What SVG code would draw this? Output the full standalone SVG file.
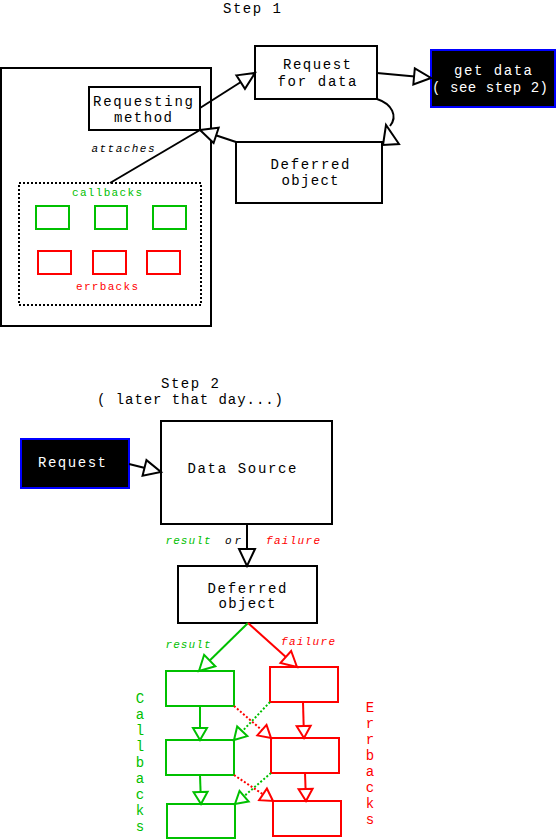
<svg xmlns="http://www.w3.org/2000/svg" width="556" height="840" viewBox="0 0 556 840">
<style>
text{font-family:"Liberation Mono","DejaVu Sans Mono",monospace;font-size:14px;fill:#000;text-anchor:middle}
.w{fill:#fff}
.sm{font-size:11px;font-style:italic}
.lab{font-size:11px}
.g{fill:#00c000}
.r{fill:#ff0000}
.box{fill:#fff;stroke:#000;stroke-width:2}
.blk{fill:#000;stroke:#0000ff;stroke-width:2}
.gb{fill:none;stroke:#00c000;stroke-width:2}
.rb{fill:none;stroke:#ff0000;stroke-width:2}
.ln{fill:none;stroke:#000;stroke-width:2}
.gl{fill:none;stroke:#00c000;stroke-width:2}
.rl{fill:none;stroke:#ff0000;stroke-width:2}
.dot{stroke-dasharray:2 2}
</style>
<defs>
<marker id="ak" markerUnits="userSpaceOnUse" markerWidth="22" markerHeight="22" refX="17" refY="8" orient="auto" overflow="visible"><path d="M0,0 L17,8 L0,16 z" fill="#fff" stroke="#000" stroke-width="2"/></marker>
<marker id="ag" markerUnits="userSpaceOnUse" markerWidth="18" markerHeight="18" refX="12" refY="7" orient="auto" overflow="visible"><path d="M0,0 L12,7 L0,14 z" fill="#fff" stroke="#00c000" stroke-width="2"/></marker>
<marker id="ar" markerUnits="userSpaceOnUse" markerWidth="18" markerHeight="18" refX="12" refY="7" orient="auto" overflow="visible"><path d="M0,0 L12,7 L0,14 z" fill="#fff" stroke="#ff0000" stroke-width="2"/></marker>
<marker id="agl" markerUnits="userSpaceOnUse" markerWidth="22" markerHeight="22" refX="15" refY="8" orient="auto" overflow="visible"><path d="M0,0 L15,8 L0,16 z" fill="#fff" stroke="#00c000" stroke-width="2"/></marker>
<marker id="arl" markerUnits="userSpaceOnUse" markerWidth="22" markerHeight="22" refX="15" refY="8" orient="auto" overflow="visible"><path d="M0,0 L15,8 L0,16 z" fill="#fff" stroke="#ff0000" stroke-width="2"/></marker>
</defs>

<text x="252" y="13" textLength="58">Step 1</text>

<g id="container">
<rect x="1" y="68" width="210" height="258" class="box"/>
</g>

<g id="callbacks-group">
<rect x="19" y="183" width="182" height="122" fill="none" stroke="#000" stroke-width="2" class="dot"/>
<text x="107" y="196" class="lab g" textLength="70">callbacks</text>
<rect x="36" y="206" width="33" height="23" class="gb"/>
<rect x="95" y="206" width="32" height="23" class="gb"/>
<rect x="153" y="206" width="33" height="23" class="gb"/>
<rect x="38" y="251" width="33" height="23" class="rb"/>
<rect x="93" y="251" width="33" height="23" class="rb"/>
<rect x="147" y="251" width="33" height="23" class="rb"/>
<text x="107" y="290" class="lab r" textLength="62">errbacks</text>
</g>

<g id="requesting-method">
<rect x="89" y="87" width="111" height="43" class="box"/>
<text x="143" y="106" textLength="100">Requesting</text>
<text x="143" y="122" textLength="58">method</text>
</g>

<g id="request-for-data">
<rect x="255" y="46" width="122" height="53" class="box"/>
<text x="317" y="69" textLength="68">Request</text>
<text x="317" y="86" textLength="79">for data</text>
</g>

<g id="get-data">
<rect x="431" y="50" width="124" height="57" class="blk"/>
<text x="493" y="75" class="w" textLength="78">get data</text>
<text x="490" y="92" class="w" textLength="116">( see step 2)</text>
</g>

<g id="deferred-1">
<rect x="236" y="142" width="146" height="61" class="box"/>
<text x="310" y="169" textLength="79">Deferred</text>
<text x="310" y="185" textLength="57">object</text>
</g>

<text x="190" y="388" textLength="58">Step 2</text>
<text x="190" y="404" textLength="186">( later that day...)</text>

<g id="request-2">
<rect x="21" y="439" width="108" height="49" class="blk"/>
<text x="72" y="467" class="w" textLength="68">Request</text>
</g>

<g id="data-source">
<rect x="161" y="421" width="171" height="103" class="box"/>
<text x="242" y="473" textLength="109">Data Source</text>
</g>

<g id="deferred-2">
<rect x="178" y="566" width="139" height="57" class="box"/>
<text x="247" y="593" textLength="79">Deferred</text>
<text x="247" y="608" textLength="57">object</text>
</g>

<g id="cb1"><rect x="166" y="671" width="68" height="35" class="gb"/></g>
<g id="cb2"><rect x="166" y="740" width="68" height="35" class="gb"/></g>
<g id="cb3"><rect x="167" y="804" width="68" height="34" class="gb"/></g>
<g id="eb1"><rect x="270" y="667" width="68" height="35" class="rb"/></g>
<g id="eb2"><rect x="271" y="738" width="68" height="35" class="rb"/></g>
<g id="eb3"><rect x="273" y="801" width="68" height="35" class="rb"/></g>

<text class="g" x="140" y="703">C<tspan x="140" dy="16">a</tspan><tspan x="140" dy="16">l</tspan><tspan x="140" dy="16">l</tspan><tspan x="140" dy="16">b</tspan><tspan x="140" dy="16">a</tspan><tspan x="140" dy="16">c</tspan><tspan x="140" dy="16">k</tspan><tspan x="140" dy="16">s</tspan></text>
<text class="r" x="370" y="712">E<tspan x="370" dy="16">r</tspan><tspan x="370" dy="16">r</tspan><tspan x="370" dy="16">b</tspan><tspan x="370" dy="16">a</tspan><tspan x="370" dy="16">c</tspan><tspan x="370" dy="16">k</tspan><tspan x="370" dy="16">s</tspan></text>

<g id="connectors">
<line x1="200" y1="108" x2="255" y2="73" class="ln" marker-end="url(#ak)"/>
<line x1="377" y1="73" x2="431" y2="78" class="ln" marker-end="url(#ak)"/>
<line x1="236" y1="142" x2="200" y2="130" class="ln" marker-end="url(#ak)"/>
<line x1="110" y1="183" x2="200" y2="130" class="ln"/>
<text x="123" y="152" class="sm" textLength="63">attaches</text>
<path d="M377,99 C392,104 398,116 390,126" class="ln"/>
<polygon points="386,125 383,145 399,144" fill="#fff" stroke="#000" stroke-width="2"/>

<line x1="129" y1="464" x2="161" y2="472" class="ln" marker-end="url(#ak)"/>
<line x1="247" y1="524" x2="247" y2="566" class="ln" marker-end="url(#ak)"/>
<text x="188" y="544" class="sm g" textLength="45">result</text>
<text x="233" y="544" class="sm" textLength="16">or</text>
<text x="293" y="544" class="sm r" textLength="54">failure</text>

<line x1="248" y1="623" x2="199" y2="671" class="gl" marker-end="url(#agl)"/>
<line x1="248" y1="623" x2="297" y2="667" class="rl" marker-end="url(#arl)"/>
<text x="188" y="648" class="sm g" textLength="45">result</text>
<text x="308" y="645" class="sm r" textLength="54">failure</text>

<line x1="200" y1="706" x2="200" y2="740" class="gl" marker-end="url(#ag)"/>
<line x1="200" y1="775" x2="201" y2="804" class="gl" marker-end="url(#ag)"/>
<line x1="303" y1="702" x2="304" y2="738" class="rl" marker-end="url(#ar)"/>
<line x1="305" y1="773" x2="306" y2="801" class="rl" marker-end="url(#ar)"/>

<line x1="234" y1="706" x2="271" y2="738" class="rl dot" marker-end="url(#ar)"/>
<line x1="270" y1="702" x2="234" y2="740" class="gl dot" marker-end="url(#ag)"/>
<line x1="234" y1="775" x2="273" y2="801" class="rl dot" marker-end="url(#ar)"/>
<line x1="271" y1="773" x2="235" y2="804" class="gl dot" marker-end="url(#ag)"/>
</g>
</svg>
